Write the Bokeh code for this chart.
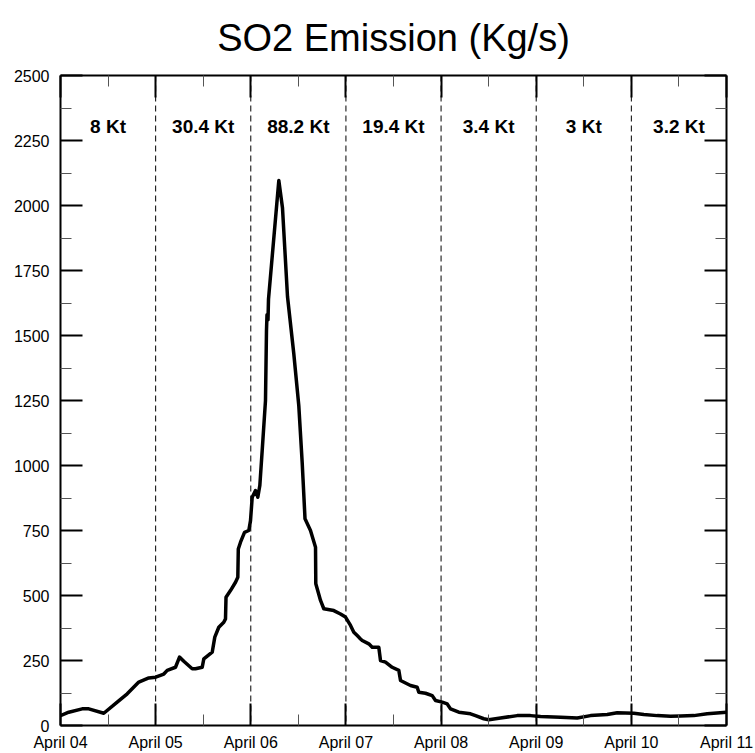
from bokeh.plotting import figure
from bokeh.models import (Range1d, LinearAxis, FixedTicker, Span, ColumnDataSource,
                          CustomLabelingPolicy)
from bokeh.core.properties import value
from bokeh.embed import file_html
from bokeh.resources import INLINE

# hours since April 04 00:00
hours = [0, 2.09, 5.47, 7.14, 10.92, 14.30, 16.83, 19.75, 22.27, 24.0,
         26.06, 26.92, 29.01, 30.02, 31.10, 33.22, 34.05, 35.75, 36.15, 38.27,
         38.92, 39.93, 41.19, 41.62, 41.75, 42.88, 44.15, 44.73, 44.85, 45.41,
         46.42, 47.50, 47.93, 48.36, 49.19, 49.77, 50.28, 50.88, 51.71, 51.96,
         52.09, 52.34, 52.47, 55.07, 56.00, 57.26, 58.85, 60.11, 60.97, 61.17,
         61.68, 63.06, 64.33, 64.40, 65.59, 66.42, 68.94, 70.63, 71.89, 73.16,
         73.99, 74.85, 75.68, 76.11, 77.77, 78.63, 80.29, 80.72, 81.98, 83.67,
         85.34, 85.77, 88.29, 89.98, 90.38, 92.07, 93.77, 94.60, 96.29, 97.55,
         98.38, 100.48, 103.43, 104.69, 106.78, 108.04, 111.0, 115.21, 118.56, 121.09,
         126.13, 130.34, 133.70, 137.91, 140.43, 144.62, 147.14, 150.52, 153.88, 156.40,
         159.76, 163.14, 168.0]
so2 = [38, 51, 64, 64, 47, 90, 122, 167, 183, 186,
       198, 212, 224, 263, 247, 218, 218, 224, 256, 282,
       340, 378, 397, 410, 493, 519, 551, 570, 679, 705,
       743, 750, 788, 878, 904, 878, 923, 1058, 1250, 1519,
       1580, 1560, 1640, 2096, 1990, 1650, 1430, 1230, 1010, 950,
       795, 750, 686, 545, 481, 449, 442, 429, 417, 385,
       359, 346, 333, 327, 314, 301, 301, 250, 244, 224,
       212, 173, 154, 147, 128, 124, 115, 96, 90, 83,
       64, 51, 45, 38, 26, 22, 29, 38, 38, 35,
       32, 29, 38, 42, 49, 47, 42, 38, 36, 37,
       38, 45, 51]

day_ticks = [0, 24, 48, 72, 96, 120, 144, 168]
day_labels = ["April 04", "April 05", "April 06", "April 07",
              "April 08", "April 09", "April 10", "April 11"]
half_day_ticks = [12, 36, 60, 84, 108, 132, 156]
kt_labels = ["8 Kt", "30.4 Kt", "88.2 Kt", "19.4 Kt", "3.4 Kt", "3 Kt", "3.2 Kt"]
y_ticks = [0, 250, 500, 750, 1000, 1250, 1500, 1750, 2000, 2250, 2500]
y_minor = [125, 375, 625, 875, 1125, 1375, 1625, 1875, 2125, 2375]
title_text = "SO2 Emission (Kg/s)"

FONT = "Liberation Sans"

p = figure(width=755, height=753, output_backend="svg", toolbar_location=None,
           x_range=Range1d(0, 168), y_range=Range1d(0, 2500),
           x_axis_location=None, y_axis_location=None,
           min_border_left=60, min_border_right=29,
           min_border_top=75, min_border_bottom=28)
p.grid.visible = False
p.outline_line_color = None
p.background_fill_color = "white"
p.border_fill_color = "white"

p.title.text = title_text
p.title.align = "center"
p.title.vertical_align = "top"
p.title.text_font = FONT
p.title.text_font_size = "38px"
p.title.text_font_style = "normal"
p.title.text_color = "black"
p.title.standoff = 22
p.title.offset = 0

hide_all = CustomLabelingPolicy(code="""
    for (const i of Array.from(indices))
        indices.unset(i)
    return indices
""")


def style_axis(ax, labels=True):
    ax.axis_line_width = 2
    ax.axis_line_color = "black"
    ax.major_tick_in = 22
    ax.major_tick_out = 0
    ax.minor_tick_in = 11
    ax.minor_tick_out = 0
    ax.major_tick_line_width = 2
    ax.major_tick_line_color = "black"
    ax.minor_tick_line_width = 1
    ax.minor_tick_line_color = "#555555"
    ax.major_label_text_font = FONT
    ax.major_label_text_font_size = "16px"
    ax.major_label_text_color = "black"
    if not labels:
        ax.major_label_policy = hide_all
        ax.major_label_standoff = 0
        ax.major_label_text_font_size = "1px"


xb = LinearAxis(ticker=FixedTicker(ticks=day_ticks, minor_ticks=half_day_ticks))
xb.major_label_overrides = {t: lab for t, lab in zip(day_ticks, day_labels)}
style_axis(xb)
xb.major_label_standoff = 8
p.add_layout(xb, "below")

xt = LinearAxis(ticker=FixedTicker(ticks=day_ticks, minor_ticks=half_day_ticks))
style_axis(xt, labels=False)
p.add_layout(xt, "above")

yl = LinearAxis(ticker=FixedTicker(ticks=y_ticks, minor_ticks=y_minor))
style_axis(yl)
yl.major_label_standoff = 11
p.add_layout(yl, "left")

yr = LinearAxis(ticker=FixedTicker(ticks=y_ticks, minor_ticks=y_minor))
style_axis(yr, labels=False)
p.add_layout(yr, "right")

for t in day_ticks[1:-1]:
    p.add_layout(Span(location=t, dimension="height", line_color="black",
                      line_width=1, line_dash="6 4"))

src = ColumnDataSource(dict(x=hours, y=so2))
p.line("x", "y", source=src, line_width=3.5, line_color="black", line_join="round")

ksrc = ColumnDataSource(dict(x=half_day_ticks, y=[2305] * len(half_day_ticks), t=kt_labels))
p.text("x", "y", text="t", source=ksrc, text_font=value(FONT), text_font_style="bold",
       text_font_size="19px", text_align="center", text_baseline="middle", text_color="black")

open("out.html", "w").write(file_html(p, INLINE))
